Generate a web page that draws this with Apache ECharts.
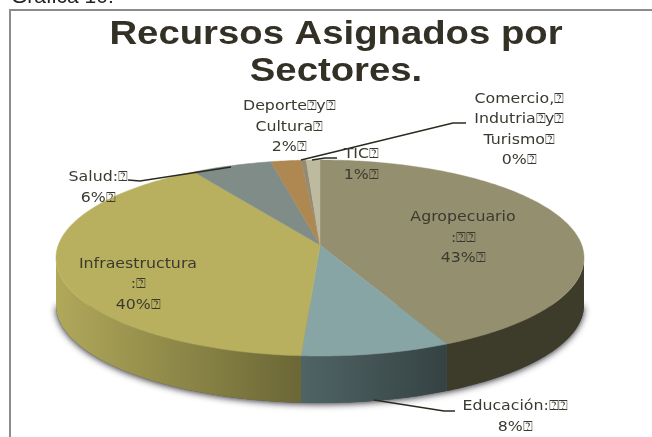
<!DOCTYPE html>
<html>
<head>
<meta charset="UTF-8">
<title>Recursos Asignados por Sectores</title>
<script src="https://cdn.jsdelivr.net/npm/echarts@6/dist/echarts.min.js"></script>
<style>
html,body{margin:0;padding:0;background:#fff;}
#main{width:652px;height:437px;}
</style>
</head>
<body>
<div id="main"></div>
<script type="text/javascript">
// datos
var sectores = ['Agropecuario', 'Educación', 'Infraestructura', 'Salud', 'Deporte y Cultura', 'Comercio, Indutria y Turismo', 'TIC'];
var valores = [43, 8, 40, 5.6, 2.1, 0.35, 0.95];
var etiquetas = [
  'Agropecuario\n:⍰⍰\n43%⍰',
  'Educación:⍰⍰\n8%⍰',
  'Infraestructura\n:⍰\n40%⍰',
  'Salud:⍰\n6%⍰',
  'Deporte⍰y⍰\nCultura⍰\n2%⍰',
  'Comercio,⍰\nIndutria⍰y⍰\nTurismo⍰\n0%⍰',
  'TIC⍰\n1%⍰'
];

// estilos (lado: izquierda a derecha)
var colorTapa = ['#948f6e', '#88a5a5', '#b8b05e', '#7f8c88', '#ae8850', '#958b72', '#bebaa0'];
var colorLadoIzq = ['#3d3c2a', '#506465', '#b0a85a', '#5a6360', '#7a5f38', '#666', '#888'];
var colorLadoDer = ['#3d3c2a', '#354243', '#6b6736', '#5a6360', '#7a5f38', '#666', '#888'];
// centro de cada etiqueta y linea guia
var posEtiqueta = [[463, 238], [515, 417], [138, 284.5], [98, 188], [289, 127], [519, 130], [361, 165]];
var guias = [
  null,
  [[374, 400], [444, 411], [455, 411]],
  null,
  [[128, 180], [140, 181], [231, 167]],
  null,
  [[466, 123], [453, 123], [301, 160]],
  [[337, 158], [325, 158], [312, 160]]
];

var cx = 320, cy = 258, rx = 264, ry = 98, alto = 47;
var d = 0.133; // perspectiva, el vertice queda arriba del centro

var total = valores.reduce(function (a, b) { return a + b; }, 0);
var inicio = [], acum = 0;
valores.forEach(function (v) { inicio.push(acum / total); acum += v; });

function borde(s) {
  var t = 2 * Math.PI * s, x = Math.sin(t), y = Math.cos(t);
  var w = 1 + d * y;
  return {
    x: cx + rx * x * Math.sqrt(1 - d * d) / w,
    y: cy - ry * (y + d) / w,
    abajo: (y + d) / w <= 0
  };
}
function tramo(s0, s1) {
  var pts = [], n = Math.max(2, Math.ceil((s1 - s0) * 400));
  for (var i = 0; i <= n; i++) pts.push(borde(s0 + (s1 - s0) * i / n));
  return pts;
}
function xy(p, dy) { return [p.x, p.y + (dy || 0)]; }

function paredDe(pts) {
  var abajo = pts.filter(function (p) { return p.abajo; });
  if (abajo.length < 2) return null;
  var out = abajo.map(function (p) { return xy(p); });
  abajo.slice().reverse().forEach(function (p) { out.push(xy(p, alto)); });
  return out;
}

function dibujar(params, api) {
  var i = params.dataIndex;
  var s0 = api.value(1), s1 = s0 + api.value(0) / total;
  var pts = tramo(s0, s1);
  var hijos = [];
  var pared = paredDe(pts);
  if (pared) {
    hijos.push({
      type: 'polygon',
      shape: { points: pared },
      style: {
        fill: new echarts.graphic.LinearGradient(0, 0, 1, 0, [
          { offset: 0, color: colorLadoIzq[i] },
          { offset: 1, color: colorLadoDer[i] }
        ]),
        stroke: null
      }
    });
  }
  var tapa = [[cx, cy - ry * d]].concat(pts.map(function (p) { return xy(p); }));
  hijos.push({ type: 'polygon', shape: { points: tapa }, style: { fill: colorTapa[i], stroke: colorTapa[i], lineWidth: 0.5 } });
  return { type: 'group', children: hijos };
}

function dibujarSombra() {
  var pts = tramo(0, 1).filter(function (p) { return p.abajo; });
  pts.sort(function (a, b) { return b.x - a.x; });
  var out = pts.map(function (p) { return xy(p, alto); });
  return {
    type: 'polygon',
    shape: { points: out },
    style: { fill: '#555', shadowBlur: 7, shadowColor: 'rgba(40,40,50,1)', shadowOffsetX: 0, shadowOffsetY: 1 }
  };
}

function dibujarEtiqueta(params, api) {
  var i = params.dataIndex;
  var hijos = [];
  if (guias[i]) {
    hijos.push({ type: 'polyline', shape: { points: guias[i] }, style: { fill: null, stroke: '#2b2a20', lineWidth: 1.5 } });
  }
  hijos.push({
    type: 'text',
    x: posEtiqueta[i][0],
    y: posEtiqueta[i][1],
    scaleX: 1.17,
    style: {
      text: etiquetas[i],
      font: '13.5px "DejaVu Sans"',
      lineHeight: 20.5,
      fill: '#3a3a30',
      align: 'center',
      verticalAlign: 'middle'
    }
  });
  return { type: 'group', children: hijos };
}

var filas = valores.map(function (v, i) { return [v, inicio[i], sectores[i]]; });

var myChart = echarts.init(document.getElementById('main'), null, { renderer: 'canvas' });
myChart.setOption({
  animation: false,
  graphic: [
    { type: 'text', x: 336, y: 53, scaleX: 1.16, style: { text: 'Recursos Asignados por\nSectores.', font: 'bold 33px "Liberation Sans"', lineHeight: 37, fill: '#333025', align: 'center', verticalAlign: 'middle' } },
    { type: 'text', x: 11, y: 8, style: { text: 'Gráfica 10:', font: '21px "Liberation Sans"', fill: '#222', verticalAlign: 'bottom' } },
    { type: 'polyline', shape: { points: [[10, 437], [10, 10], [652, 10]] }, style: { fill: null, stroke: '#8c8c8c', lineWidth: 2 } }
  ],
  series: [
    { type: 'custom', coordinateSystem: 'none', z: 1, silent: true, data: [[0]], renderItem: dibujarSombra },
    { type: 'custom', coordinateSystem: 'none', z: 2, data: filas, renderItem: dibujar },
    { type: 'custom', coordinateSystem: 'none', z: 3, silent: true, data: filas, renderItem: dibujarEtiqueta }
  ]
});
</script>
</body>
</html>
